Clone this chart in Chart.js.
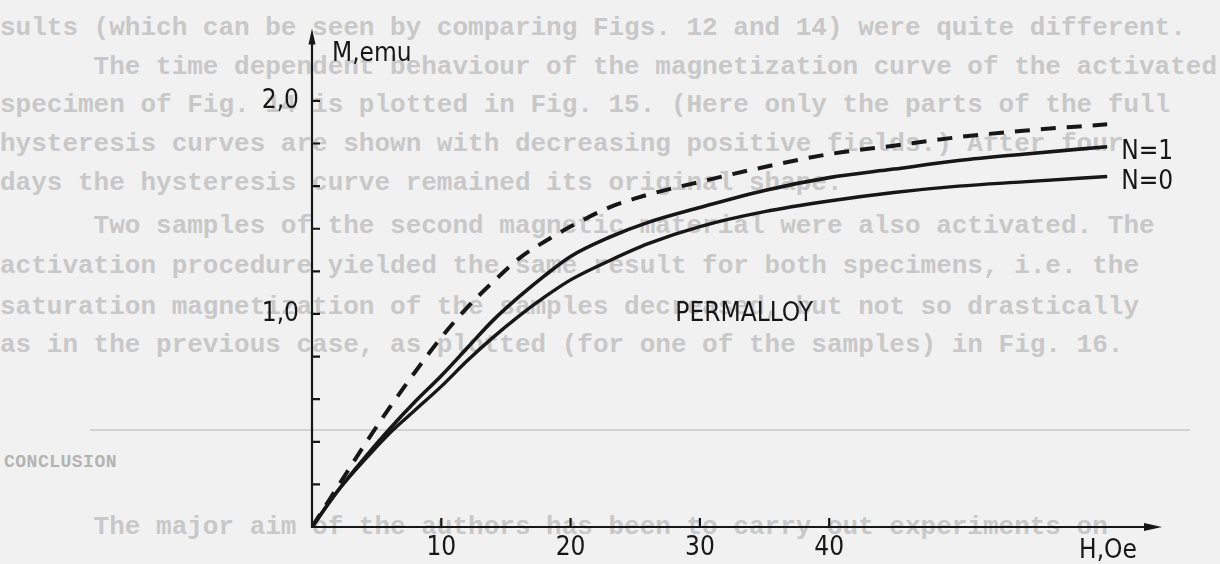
<!DOCTYPE html>
<html>
<head>
<meta charset="utf-8">
<title>Permalloy magnetization curves</title>
<script src="https://cdn.jsdelivr.net/npm/chart.js@4.4.1/dist/chart.umd.min.js"></script>
<style>
  html, body { margin: 0; padding: 0; background: #f1f1f1; }
  #page { position: relative; width: 1220px; height: 564px; overflow: hidden; }
  .bg {
    position: absolute; left: 0; white-space: pre;
    font-family: "Liberation Mono", "DejaVu Sans Mono", monospace;
    font-size: 26px; font-weight: bold; line-height: 26px; color: #c8c8c8;
  }
  .bg.head { font-size: 18px; letter-spacing: 0.5px; color: #b4b4b4; left: 4px; }
  .rule { position: absolute; left: 90px; width: 1100px; top: 429px; height: 2px; background: #d3d3d3; }
  #chart { position: absolute; left: 0; top: 0; }
</style>
</head>
<body>
<div id="page">
  <!-- faded page text behind the figure -->
  <div class="bg" style="top:15px">sults (which can be seen by comparing Figs. 12 and 14) were quite different.</div>
  <div class="bg" style="top:54px">      The time dependent behaviour of the magnetization curve of the activated</div>
  <div class="bg" style="top:92px">specimen of Fig. 14 is plotted in Fig. 15. (Here only the parts of the full</div>
  <div class="bg" style="top:131px">hysteresis curves are shown with decreasing positive fields.) After four</div>
  <div class="bg" style="top:170px">days the hysteresis curve remained its original shape.</div>
  <div class="bg" style="top:213px">      Two samples of the second magnetic material were also activated. The</div>
  <div class="bg" style="top:253px">activation procedure yielded the same result for both specimens, i.e. the</div>
  <div class="bg" style="top:294px">saturation magnetization of the samples decreased, but not so drastically</div>
  <div class="bg" style="top:332px">as in the previous case, as plotted (for one of the samples) in Fig. 16.</div>
  <div class="rule"></div>
  <div class="bg head" style="top:449px">CONCLUSION</div>
  <div class="bg" style="top:514px">      The major aim of the authors has been to carry out experiments on</div>
  <canvas id="chart" width="1220" height="564"></canvas>
</div>
<script>
  // field H (Oe) where the curves were read
  var H_VALUES = [0, 2, 4, 6, 8, 10, 12, 14, 16, 18, 20, 23, 26, 30, 35, 40, 45, 50, 55, 61.5];
  // magnetization M (emu)
  var M_N0 = [0, 0.17, 0.31, 0.44, 0.55, 0.66, 0.78, 0.89, 0.99, 1.08, 1.16, 1.25, 1.33, 1.41, 1.48, 1.53, 1.57, 1.60, 1.62, 1.645];
  var M_N1 = [0, 0.17, 0.32, 0.46, 0.59, 0.71, 0.84, 0.97, 1.08, 1.18, 1.27, 1.36, 1.43, 1.50, 1.58, 1.64, 1.68, 1.72, 1.75, 1.785];
  var M_DASHED = [0, 0.19, 0.38, 0.56, 0.73, 0.89, 1.03, 1.15, 1.26, 1.34, 1.41, 1.50, 1.56, 1.62, 1.69, 1.75, 1.79, 1.83, 1.86, 1.89];

  var X_TICKS = [10, 20, 30, 40];
  var Y_TICKS = [0.2, 0.4, 0.6, 0.8, 1.0, 1.2, 1.4, 1.6, 1.8, 2.0];
  var Y_LABELS = { "1": "1,0", "2": "2,0" };

  var INK = "#171717";
  var FONT = '"Liberation Sans Narrow", "DejaVu Sans Condensed", "Roboto Condensed", sans-serif';

  function toPoints(ys) {
    return H_VALUES.map(function (h, i) { return { x: h, y: ys[i] }; });
  }

  // axis lines with arrows, inward ticks and the text labels of the figure
  var figurePlugin = {
    id: "figure",
    afterDatasetsDraw: function (chart) {
      var ctx = chart.ctx;
      var area = chart.chartArea;
      var xs = chart.scales.x;
      var ys = chart.scales.y;
      var x0 = xs.getPixelForValue(0);
      var y0 = ys.getPixelForValue(0);

      ctx.save();
      ctx.strokeStyle = INK;
      ctx.fillStyle = INK;
      ctx.lineWidth = 2.2;
      ctx.lineCap = "butt";

      ctx.beginPath();
      ctx.moveTo(x0, y0 + 1);
      ctx.lineTo(x0, area.top + 12);
      ctx.moveTo(x0 - 1, y0);
      ctx.lineTo(area.right - 14, y0);
      Y_TICKS.forEach(function (v) {
        var py = ys.getPixelForValue(v);
        ctx.moveTo(x0, py);
        ctx.lineTo(x0 + 8, py);
      });
      X_TICKS.forEach(function (v) {
        var px = xs.getPixelForValue(v);
        ctx.moveTo(px, y0);
        ctx.lineTo(px, y0 - 9);
      });
      ctx.stroke();

      // arrow heads
      ctx.beginPath();
      ctx.moveTo(x0, area.top);
      ctx.lineTo(x0 - 3.5, area.top + 16);
      ctx.lineTo(x0 + 3.5, area.top + 16);
      ctx.closePath();
      ctx.fill();
      ctx.beginPath();
      ctx.moveTo(area.right, y0);
      ctx.lineTo(area.right - 18, y0 - 4);
      ctx.lineTo(area.right - 18, y0 + 4);
      ctx.closePath();
      ctx.fill();

      ctx.font = "26px " + FONT;
      ctx.textBaseline = "middle";
      ctx.textAlign = "left";
      ctx.fillText("M,emu", x0 + 20, ys.getPixelForValue(2.22));
      ctx.fillText("PERMALLOY", xs.getPixelForValue(28.1), ys.getPixelForValue(1.0));

      var last = H_VALUES.length - 1;
      var endX = xs.getPixelForValue(H_VALUES[last]) + 14;
      ctx.fillText("N=1", endX, ys.getPixelForValue(M_N1[last]) + 6);
      ctx.fillText("N=0", endX, ys.getPixelForValue(M_N0[last]) + 6);

      ctx.textAlign = "center";
      ctx.fillText("H,Oe", area.right - 54, y0 + 24);
      ctx.restore();
    }
  };

  new Chart(document.getElementById("chart"), {
    type: "line",
    data: {
      datasets: [
        {
          label: "N=0",
          data: toPoints(M_N0),
          borderColor: INK,
          borderWidth: 3.4,
          cubicInterpolationMode: "monotone",
          pointRadius: 0,
          fill: false
        },
        {
          label: "N=1",
          data: toPoints(M_N1),
          borderColor: INK,
          borderWidth: 3.6,
          cubicInterpolationMode: "monotone",
          pointRadius: 0,
          fill: false
        },
        {
          label: "dashed",
          data: toPoints(M_DASHED),
          borderColor: INK,
          borderWidth: 4,
          borderDash: [15, 11],
          cubicInterpolationMode: "monotone",
          pointRadius: 0,
          fill: false
        }
      ]
    },
    options: {
      responsive: false,
      animation: false,
      events: [],
      layout: { padding: { left: 0, top: 17, right: 58, bottom: 0 } },
      plugins: { legend: { display: false }, tooltip: { enabled: false } },
      scales: {
        x: {
          type: "linear",
          min: 0,
          max: 65.74,
          grid: { display: false, drawTicks: false },
          border: { display: false },
          afterFit: function (scale) { scale.height = 37; },
          ticks: {
            stepSize: 10,
            autoSkip: false,
            maxRotation: 0,
            padding: 6,
            color: INK,
            font: { family: FONT, size: 26 },
            callback: function (v) {
              return X_TICKS.indexOf(v) >= 0 ? String(v) : "";
            }
          }
        },
        y: {
          type: "linear",
          min: 0,
          max: 2.3394,
          grid: { display: false, drawTicks: false },
          border: { display: false },
          afterFit: function (scale) { scale.width = 312; },
          ticks: {
            stepSize: 0.2,
            autoSkip: false,
            padding: 13,
            color: INK,
            font: { family: FONT, size: 26 },
            callback: function (v) {
              var key = String(Math.round(v * 1000) / 1000);
              return Y_LABELS[key] || "";
            }
          }
        }
      }
    },
    plugins: [figurePlugin]
  });
</script>
</body>
</html>
